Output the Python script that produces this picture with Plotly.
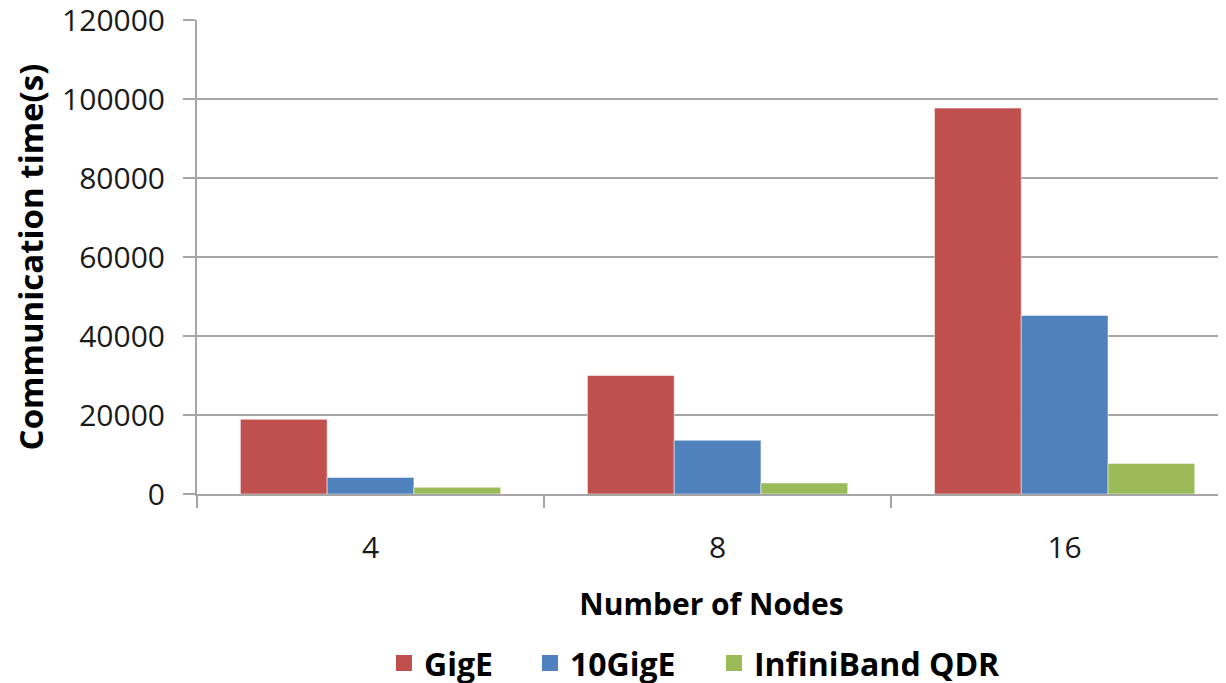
import plotly.graph_objects as go

categories = ["4", "8", "16"]
series_names = ["GigE", "10GigE", "InfiniBand QDR"]
gige = [18900, 30000, 97700]
tengige = [4200, 13600, 45200]
infiniband = [1700, 2800, 7750]
colors = ["#C0504D", "#4F81BD", "#9BBB59"]
y_ticks = [0, 20000, 40000, 60000, 80000, 100000, 120000]

FONT = "Open Sans"
GRID = "#A6A6A6"
legend_x = [0.1817, 0.3236, 0.5024]
legend_ids = ["legend", "legend2", "legend3"]

fig = go.Figure()
for name, vals, col in zip(series_names, [gige, tengige, infiniband], colors):
    fig.add_trace(go.Bar(
        x=categories, y=vals, name=name, showlegend=False,
        marker=dict(color=col, line=dict(color="rgba(255,255,255,0.5)", width=1)),
    ))
# legend entries (square swatches)
for name, col, lid in zip(series_names, colors, legend_ids):
    fig.add_trace(go.Scatter(
        x=[None], y=[None], mode="markers", name=name, legend=lid,
        marker=dict(symbol="square", size=16, color=col),
    ))

legend_font = dict(family=FONT, size=32, color="#000000", weight="bold")
legend_common = dict(orientation="h", xanchor="left", y=-0.357, yanchor="middle",
                     font=legend_font, itemwidth=30, bgcolor="rgba(0,0,0,0)")

fig.update_layout(
    width=1226, height=683,
    margin=dict(l=189, r=8, t=12, b=197, autoexpand=False),
    plot_bgcolor="white", paper_bgcolor="white",
    barmode="group", bargap=0.25, bargroupgap=0,
    font=dict(family=FONT, color="#000000", size=30),
    showlegend=True,
    legend=dict(x=legend_x[0], **legend_common),
    legend2=dict(x=legend_x[1], **legend_common),
    legend3=dict(x=legend_x[2], **legend_common),
)
fig.update_xaxes(
    type="category", range=[-0.5, 2.465],
    showline=True, linecolor=GRID, linewidth=2,
    ticks="outside", ticklen=12, tickcolor=GRID, tickwidth=2,
    tickson="boundaries", ticklabelstandoff=26,
    tickfont=dict(family=FONT, size=30, color="#1a1a1a"),
    showgrid=False,
    title=dict(text="Number of Nodes", standoff=28,
               font=dict(family=FONT, size=30, color="#000000", weight="bold")),
)
fig.update_yaxes(
    range=[0, 120000], tickvals=y_ticks, ticktext=[str(v) for v in y_ticks],
    showline=True, linecolor=GRID, linewidth=2,
    ticks="outside", ticklen=12, tickcolor=GRID, tickwidth=2,
    ticklabelstandoff=12, ticklabeloverflow="allow",
    tickfont=dict(family=FONT, size=30, color="#1a1a1a"),
    showgrid=True, gridcolor=GRID, gridwidth=2,
    zeroline=False,
    title=dict(text="Communication time(s)", standoff=14,
               font=dict(family=FONT, size=33, color="#000000", weight="bold")),
)

fig.write_html("out.html")
